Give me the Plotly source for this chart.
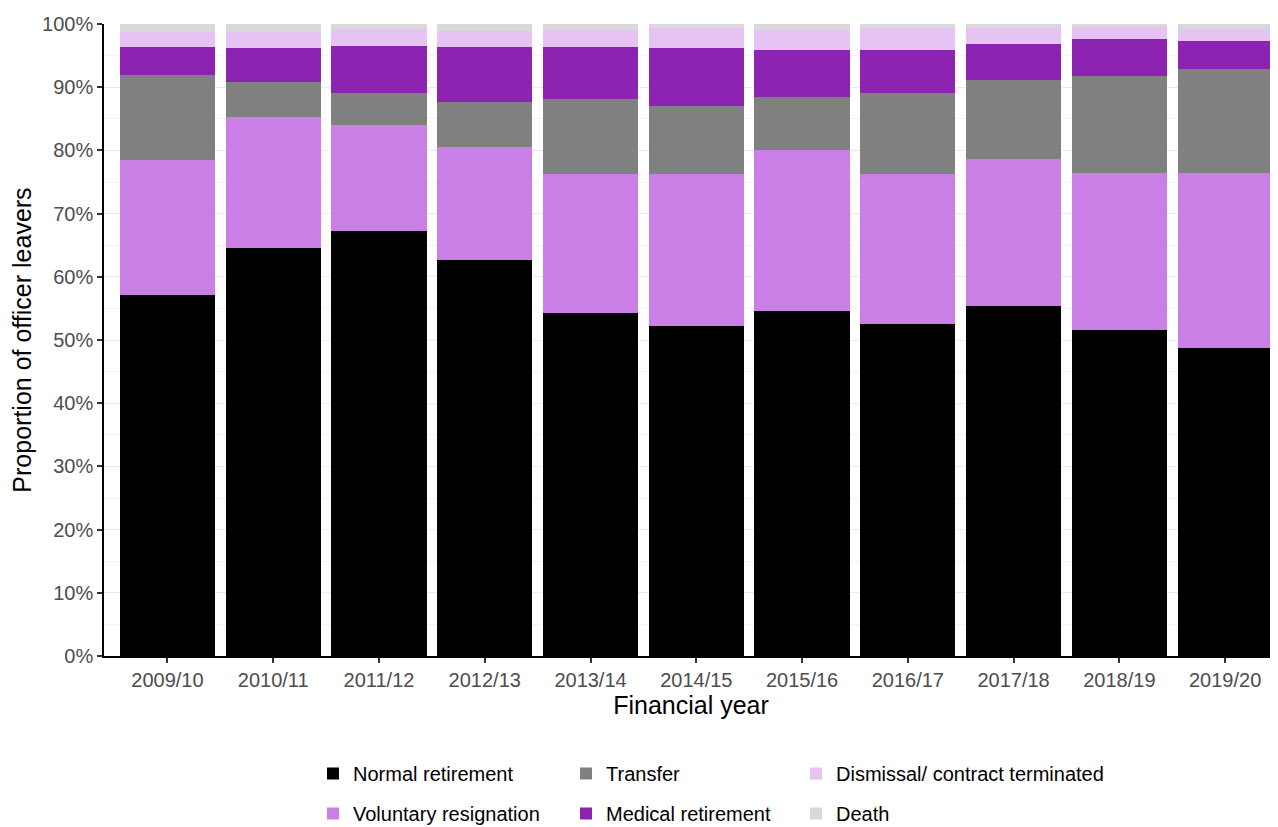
import plotly.graph_objects as go

years = ["2009/10", "2010/11", "2011/12", "2012/13", "2013/14", "2014/15",
         "2015/16", "2016/17", "2017/18", "2018/19", "2019/20"]

normal_retirement = [57.1, 64.5, 67.2, 62.6, 54.2, 52.2, 54.6, 52.6, 55.4, 51.6, 48.7]
voluntary_resignation = [21.4, 20.8, 16.8, 17.9, 22.0, 24.1, 25.4, 23.7, 23.2, 24.8, 27.7]
transfer = [13.5, 5.6, 5.1, 7.2, 11.9, 10.7, 8.4, 12.8, 12.5, 15.3, 16.5]
medical_retirement = [4.3, 5.3, 7.4, 8.7, 8.3, 9.2, 7.5, 6.8, 5.8, 5.9, 4.4]
dismissal = [2.4, 2.5, 2.7, 2.5, 2.7, 3.1, 3.2, 3.4, 2.5, 2.0, 1.9]
death = [1.3, 1.3, 0.8, 1.1, 0.9, 0.7, 0.9, 0.7, 0.6, 0.4, 0.8]

y_ticks = [0, 10, 20, 30, 40, 50, 60, 70, 80, 90, 100]
y_tick_labels = ["0%", "10%", "20%", "30%", "40%", "50%", "60%", "70%", "80%", "90%", "100%"]
y_minor = [5, 15, 25, 35, 45, 55, 65, 75, 85, 95]

series = [
    ("Normal retirement", normal_retirement, "#000000", "legend"),
    ("Voluntary resignation", voluntary_resignation, "#C97FE5", "legend"),
    ("Transfer", transfer, "#808080", "legend2"),
    ("Medical retirement", medical_retirement, "#8D23B1", "legend2"),
    ("Dismissal/ contract terminated", dismissal, "#E6C3F2", "legend3"),
    ("Death", death, "#D9D9D9", "legend3"),
]

FONT = "Liberation Sans, Arial, sans-serif"

# page body has an 8px margin, so the figure is laid out 8px smaller
W, H = 1270, 819
ML, MR, MT, MB = 96, 0, 16, 171
PW, PH = W - ML - MR, H - MT - MB


def px_to_paper_x(px):
    return (px - ML) / PW


def px_to_paper_y(py):
    return (H - MB - py) / PH


fig = go.Figure()
for name, vals, color, lg in series:
    fig.add_trace(go.Bar(
        x=years, y=vals, name=name,
        marker=dict(color=color, line=dict(width=0)),
        legend=lg, legendgroup=name,
    ))

legend_common = dict(
    orientation="v", traceorder="grouped", tracegroupgap=11,
    font=dict(family=FONT, size=20, color="#000000"),
    bgcolor="rgba(0,0,0,0)",
    xanchor="left", yanchor="top", itemclick=False, itemdoubleclick=False,
)

fig.update_layout(
    width=W, height=H,
    barmode="stack", bargap=0.1,
    plot_bgcolor="white", paper_bgcolor="white",
    margin=dict(l=ML, r=MR, t=MT, b=MB, autoexpand=False),
    font=dict(family=FONT, size=20, color="#4D4D4D"),
    xaxis=dict(
        type="category", range=[-0.6, 10.5], showline=True, linecolor="#000000", linewidth=1.5,
        ticks="outside", ticklen=5, tickcolor="#333333", tickwidth=1.5,
        tickfont=dict(family=FONT, size=20, color="#4D4D4D"),
        showgrid=False, zeroline=False, automargin=False,
        title=dict(text="Financial year", font=dict(family=FONT, size=25, color="#000000"), standoff=6),
    ),
    yaxis=dict(
        range=[0, 100], tickmode="array", tickvals=y_ticks, ticktext=y_tick_labels,
        showline=True, linecolor="#000000", linewidth=1.5,
        ticks="outside", ticklen=5, tickcolor="#333333", tickwidth=1.5,
        tickfont=dict(family=FONT, size=20, color="#4D4D4D"),
        showgrid=True, gridcolor="#EBEBEB", gridwidth=1, zeroline=False, automargin=False,
        minor=dict(tickvals=y_minor, showgrid=True, gridcolor="#F3F3F3", gridwidth=1, ticks=""),
        title=dict(text="Proportion of officer leavers", font=dict(family=FONT, size=25, color="#000000"), standoff=22),
    ),
    legend=dict(x=px_to_paper_x(305), y=px_to_paper_y(746), **legend_common),
    legend2=dict(x=px_to_paper_x(558), y=px_to_paper_y(746), **legend_common),
    legend3=dict(x=px_to_paper_x(788), y=px_to_paper_y(746), **legend_common),
)

fig.write_html("out.html")
